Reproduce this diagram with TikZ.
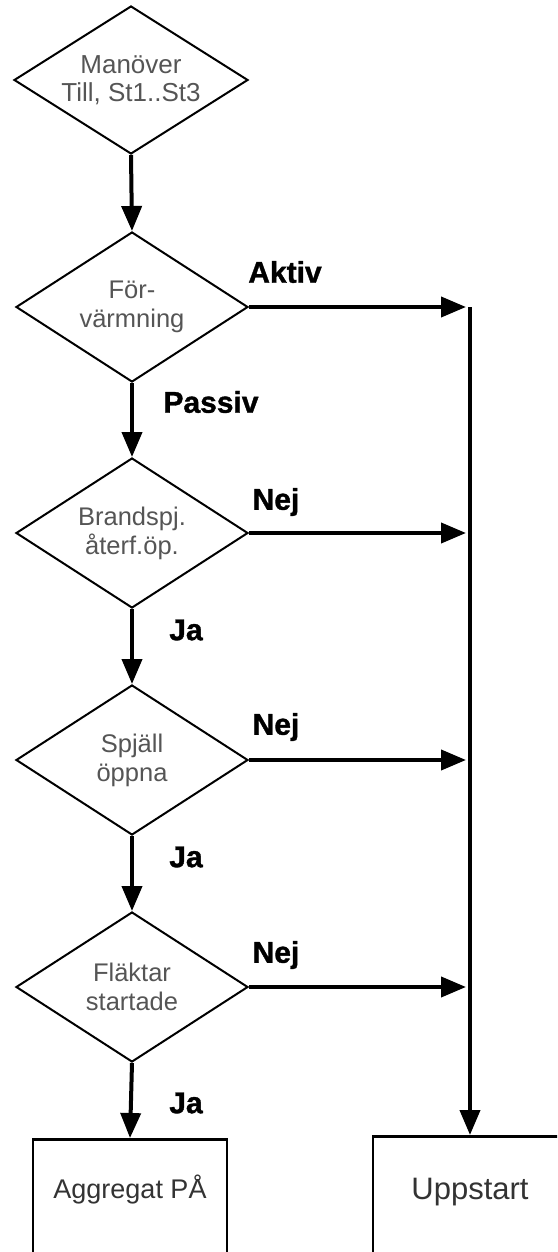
\documentclass[tikz,border=0pt]{standalone}
\usepackage{fontspec}
\setmainfont{Liberation Sans}
\newfontfamily\lblfont[FakeBold=1.2]{Liberation Sans Bold}
\usetikzlibrary{shapes.geometric,arrows.meta}
\definecolor{dtext}{HTML}{555555}
\definecolor{btext}{HTML}{333333}
\tikzset{
  dec/.style={diamond, draw=black, line width=2pt, inner sep=-25pt,
    minimum width=232pt, minimum height=150pt, text=dtext, align=center,
    font=\fontsize{25.5}{29}\selectfont},
  endbox/.style={rectangle, draw=black, line width=2.5pt, inner sep=0pt,
    minimum width=194pt, anchor=north, text=btext},
  flow/.style={line width=4pt, -{Triangle[length=25pt,width=20pt]}},
  lbl/.style={font=\lblfont\fontsize{30}{32}\selectfont, text=black, inner sep=0pt}
}
\begin{document}
\begin{tikzpicture}[x=1pt,y=-1pt]
\useasboundingbox (0,0) rectangle (557,1252);
\clip (0,0) rectangle (557,1252);
\node[dec, minimum width=234pt, minimum height=148pt, font=\fontsize{26}{28}\selectfont] (d1) at (131,80) {Manöver\\Till, St1..St3};
\node[dec] (d2) at (132,307) {För-\\värmning};
\node[dec] (d3) at (132,533) {Brandspj.\\återf.öp.};
\node[dec] (d4) at (132,760) {Spjäll\\öppna};
\node[dec] (d5) at (132,987) {Fläktar\\startade};
\node[endbox, text height=59pt, text depth=100pt, font=\fontsize{27}{30}\selectfont] (aggr) at (130,1138) {Aggregat PÅ};
\node[endbox, text height=63pt, text depth=100pt, font=\fontsize{31}{34}\selectfont] (upp) at (470,1135) {Uppstart};
\coordinate (top) at (470,307);
% main column
\draw[flow] (d1.south) -- (d2.north);
\draw[flow] (d2.south) -- (d3.north);
\draw[flow] (d3.south) -- (d4.north);
\draw[flow] (d4.south) -- (d5.north);
\draw[flow] (d5.south) -- (aggr.north);
% right trunk
\draw[flow, shorten >=4pt] (d2.east) -- (top);
\draw[flow] (top) -- (upp.north);
\draw[flow, shorten >=4pt] (d3.east) -- (d3.east -| top);
\draw[flow, shorten >=4pt] (d4.east) -- (d4.east -| top);
\draw[flow, shorten >=4pt] (d5.east) -- (d5.east -| top);
% labels
\node[lbl] (laktiv) at (285,272) {Aktiv};
\node[lbl] (lpassiv) at (211,402) {Passiv};
\node[lbl] (lnej1) at (276,502) {Nej};
\node[lbl] (lnej2) at (276,727) {Nej};
\node[lbl] (lnej3) at (276,955) {Nej};
\node[lbl] (lja1) at (186,630) {Ja};
\node[lbl] (lja2) at (186,857) {Ja};
\node[lbl] (lja3) at (186,1103) {Ja};
\end{tikzpicture}
\end{document}
